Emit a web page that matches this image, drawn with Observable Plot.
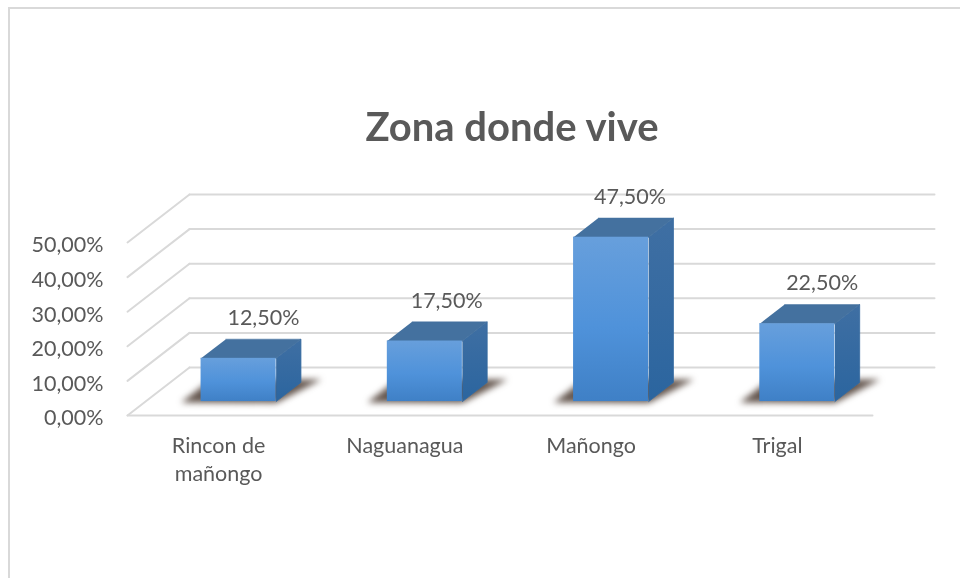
<!DOCTYPE html>
<html>
<head>
<meta charset="utf-8">
<script src="https://cdn.jsdelivr.net/npm/d3@7"></script>
<script src="https://cdn.jsdelivr.net/npm/@observablehq/plot@0.6"></script>
<style>
  html, body { margin: 0; padding: 0; background: #fff; }
  #chart { position: relative; width: 960px; height: 578px; overflow: hidden; }
  #frame { position: absolute; left: 8px; top: 7px; width: 960px; height: 600px;
           border-left: 2px solid #d9d9d9; border-top: 2px solid #d9d9d9; }
  #chart svg { position: absolute; left: 0; top: 0; filter: blur(0.45px); }
</style>
</head>
<body>
<div id="chart"><div id="frame"></div></div>
<script>
const titleText = "Zona donde vive";
const categories = ["Rincon de\nmañongo", "Naguanagua", "Mañongo", "Trigal"];
const values = [12.5, 17.5, 47.5, 22.5];
const yTicks = [0, 10, 20, 30, 40, 50];
const labelNudge = [0, -0.016, -0.032, 0];

// Depth of the 3D box, expressed in axis units
const depthX = 0.333, depthY = 13.87;
const barWidth = 0.403, barDepthStart = 0.29, barDepthEnd = 0.69;

const fmt = v => v.toFixed(2).replace(".", ",") + "%";
const pt = (cat, depth, v, id) => ({x: cat + depth * depthX, y: v + depth * depthY, id});

const bars = values.map((v, i) => {
  const c = i + 0.5, l = c - barWidth / 2, r = c + barWidth / 2;
  const s = barDepthStart, e = barDepthEnd;
  return {i, v, c, l, r, s, e,
    x1: l + s * depthX, x2: r + s * depthX, y1: s * depthY, y2: v + s * depthY};
});
const topFaces = bars.flatMap(b => [pt(b.l, b.s, b.v, b.i), pt(b.r, b.s, b.v, b.i), pt(b.r, b.e, b.v, b.i), pt(b.l, b.e, b.v, b.i)]);
const sideFaces = bars.flatMap(b => [pt(b.r, b.s, 0, b.i), pt(b.r, b.e, 0, b.i), pt(b.r, b.e, b.v, b.i), pt(b.r, b.s, b.v, b.i)]);
const shadows = bars.flatMap(b => [
  pt(b.l - 0.1, b.s - 0.02, 0, b.i), pt(b.r + 0.01, b.s - 0.03, 0, b.i),
  pt(b.r + 0.09, b.e + 0.06, 0, b.i), pt(b.l - 0.1, b.e + 0.06, 0, b.i)
]);
const gridDiagonals = yTicks.flatMap(t => [pt(0, 0, t, t), pt(0, 1, t, t)]);
const gridBack = yTicks.flatMap(t => [pt(0, 1, t, t), pt(4, 1, t, t)]);
const floorFront = [pt(0, 0, 0, 0), pt(4, 0, 0, 0)];

const blur = px => (index, scales, channels, dims, ctx, next) => {
  const g = next(index, scales, channels, dims, ctx);
  g.style.filter = `blur(${px}px)`;
  return g;
};

const defs = () => {
  const ns = "http://www.w3.org/2000/svg";
  const d = document.createElementNS(ns, "defs");
  const grad = (id, stops) => {
    const g = document.createElementNS(ns, "linearGradient");
    g.setAttribute("id", id);
    g.setAttribute("x1", 0); g.setAttribute("y1", 0); g.setAttribute("x2", 0); g.setAttribute("y2", 1);
    stops.forEach(([o, c]) => {
      const st = document.createElementNS(ns, "stop");
      st.setAttribute("offset", o); st.setAttribute("stop-color", c);
      g.appendChild(st);
    });
    d.appendChild(g);
  };
  grad("front", [[0, "#679fdc"], [0.55, "#4f92da"], [1, "#3f80c6"]]);
  grad("side", [[0, "#3f6fa3"], [1, "#2b659f"]]);
  return d;
};

const font = "Lato, Carlito, Calibri, sans-serif";
const grey = "#595959";

const plot = Plot.plot({
  width: 960, height: 578,
  marginLeft: 127, marginRight: 26, marginTop: 194, marginBottom: 163,
  style: {background: "transparent", fontFamily: font},
  x: {domain: [0, 4 + depthX], axis: null},
  y: {domain: [0, 50 + depthY], axis: null},
  marks: [
    defs,
    Plot.line(gridDiagonals, {x: "x", y: "y", z: "id", stroke: "#d9d9d9", strokeWidth: 2}),
    Plot.line(gridBack, {x: "x", y: "y", z: "id", stroke: "#d9d9d9", strokeWidth: 2}),
    Plot.line(floorFront, {x: "x", y: "y", stroke: "#d9d9d9", strokeWidth: 2}),
    Plot.line(shadows, {x: "x", y: "y", z: "id", fill: "#54453c", fillOpacity: 0.9, stroke: "none", render: blur(3)}),
    Plot.line(sideFaces, {x: "x", y: "y", z: "id", fill: "url(#side)", stroke: "#356a9f", strokeWidth: 0.8}),
    Plot.line(topFaces, {x: "x", y: "y", z: "id", fill: "#44719f", stroke: "#44719f", strokeWidth: 0.5}),
    Plot.rect(bars, {x1: "x1", x2: "x2", y1: "y1", y2: "y2", fill: "url(#front)"}),
    Plot.text(bars, {
      x: b => b.c + b.e * depthX + labelNudge[b.i], y: b => b.v + b.e * depthY,
      text: b => fmt(b.v), dy: -21, fill: grey, fontSize: 21.5
    }),
    Plot.text(yTicks, {
      x: () => 0, y: t => t, text: fmt, textAnchor: "end", dx: -24, dy: 3, fill: grey, fontSize: 21.5
    }),
    Plot.text(categories, {
      x: (d, i) => i + 0.5, y: () => 0, text: d => d,
      lineAnchor: "top", dx: -2, dy: 17, lineHeight: 1.33, fill: grey, fontSize: 21.5
    }),
    Plot.text([titleText], {
      frameAnchor: "top", dx: -19, dy: -82, text: d => d, fill: grey,
      fontSize: 40, fontWeight: "bold"
    })
  ]
});
document.getElementById("chart").appendChild(plot);
</script>
</body>
</html>
